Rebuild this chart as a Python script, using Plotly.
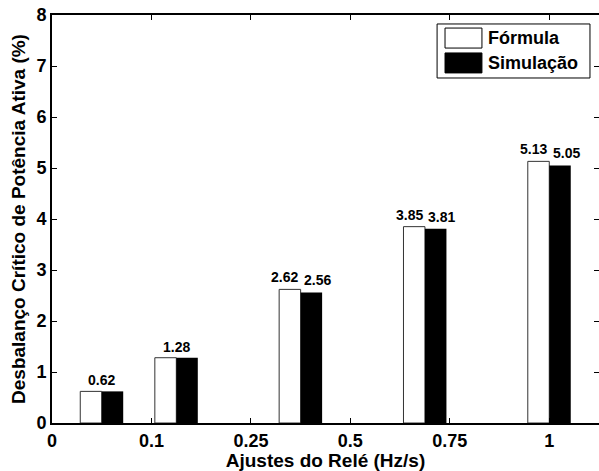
import plotly.graph_objects as go

# Relay df/dt settings (Hz/s) and critical active-power imbalance (%)
ajustes = [0.1, 0.25, 0.5, 0.75, 1.0]
formula = [0.62, 1.28, 2.62, 3.85, 5.13]
simulacao = [0.62, 1.28, 2.56, 3.81, 5.05]

# Axis ticks 0..5 with their setting labels
tick_pos = [0, 1, 2, 3, 4, 5]
tick_labels = ["0", "0.1", "0.25", "0.5", "0.75", "1"]

# bar pairs sit at 5x the setting value on the tick scale
x_pos = [5 * a for a in ajustes]

FONT = "Liberation Sans, Arial, sans-serif"
BAR_W = 0.216

fig = go.Figure()
fig.add_trace(go.Bar(
    x=x_pos, y=formula, name="Fórmula",
    width=BAR_W, offset=-BAR_W,
    marker=dict(color="white", line=dict(color="#333333", width=1)),
    showlegend=False,
))
fig.add_trace(go.Bar(
    x=x_pos, y=simulacao, name="Simulação",
    width=BAR_W, offset=0,
    marker=dict(color="black", line=dict(color="black", width=0)),
    showlegend=False,
))
# invisible trace carrying the right-hand tick axis
fig.add_trace(go.Scatter(x=[0], y=[0], yaxis="y2", mode="markers",
                         marker=dict(opacity=0), showlegend=False,
                         hoverinfo="skip"))

tickfont = dict(family=FONT, size=18, color="black", weight="bold")

fig.update_layout(
    width=599, height=471,
    margin=dict(l=52, r=0, t=15, b=48),
    paper_bgcolor="white", plot_bgcolor="white",
    barmode="overlay",
    xaxis=dict(
        range=[0, 5.5], tickmode="array", tickvals=tick_pos, ticktext=tick_labels,
        ticks="inside", ticklen=5, tickwidth=1, tickcolor="black",
        showline=True, linewidth=2, linecolor="black", mirror="ticks",
        showgrid=False, zeroline=False, tickfont=tickfont,
        title=dict(text="Ajustes do Relé (Hz/s)", standoff=2,
                   font=dict(family=FONT, size=19, color="black", weight="bold")),
    ),
    yaxis=dict(
        range=[0, 8], dtick=1, ticks="inside", ticklen=5, tickwidth=1,
        tickcolor="black", showline=True, linewidth=2, linecolor="black",
        showgrid=False, zeroline=False, tickfont=tickfont,
        title=dict(text="Desbalanço Crítico de Potência Ativa (%)", standoff=6,
                   font=dict(family=FONT, size=19, color="black", weight="bold")),
    ),
    yaxis2=dict(
        overlaying="y", side="right", range=[0, 8], dtick=1,
        ticks="inside", ticklen=5, tickwidth=1, tickcolor="black",
        showline=False, showgrid=False, zeroline=False, showticklabels=False,
    ),
)

# Value labels above the bars; a single centred label when both values agree
label_font = dict(family=FONT, size=14, color="black", weight="bold")
annotations = []
for xp, f, s in zip(x_pos, formula, simulacao):
    if f == s:
        annotations.append(dict(x=xp, y=f, text=f"{f:.2f}", showarrow=False,
                                xanchor="center", yanchor="bottom", yshift=1,
                                font=label_font))
    else:
        annotations.append(dict(x=xp - BAR_W / 2, y=f, text=f"{f:.2f}",
                                showarrow=False, xanchor="center",
                                yanchor="bottom", xshift=-5, yshift=2,
                                font=label_font))
        annotations.append(dict(x=xp + BAR_W / 2, y=s, text=f"{s:.2f}",
                                showarrow=False, xanchor="center",
                                yanchor="bottom", xshift=6, yshift=2,
                                font=label_font))

# Legend box drawn in paper coordinates
shapes = [
    dict(type="rect", xref="paper", yref="paper", x0=0.704, x1=0.9835,
         y0=0.8456, y1=0.978, line=dict(color="black", width=1),
         fillcolor="white"),
    dict(type="rect", xref="paper", yref="paper", x0=0.7185, x1=0.786,
         y0=0.919, y1=0.968, line=dict(color="black", width=1),
         fillcolor="white"),
    dict(type="rect", xref="paper", yref="paper", x0=0.7185, x1=0.786,
         y0=0.858, y1=0.907, line=dict(color="black", width=1),
         fillcolor="black"),
]
annotations += [
    dict(xref="paper", yref="paper", x=0.7934, y=0.9436, text="Fórmula",
         showarrow=False, xanchor="left", yanchor="middle",
         font=dict(family=FONT, size=18, color="black", weight="bold")),
    dict(xref="paper", yref="paper", x=0.7934, y=0.8824, text="Simulação",
         showarrow=False, xanchor="left", yanchor="middle",
         font=dict(family=FONT, size=18, color="black", weight="bold")),
]
fig.update_layout(shapes=shapes, annotations=annotations)

fig.write_html("out.html")
